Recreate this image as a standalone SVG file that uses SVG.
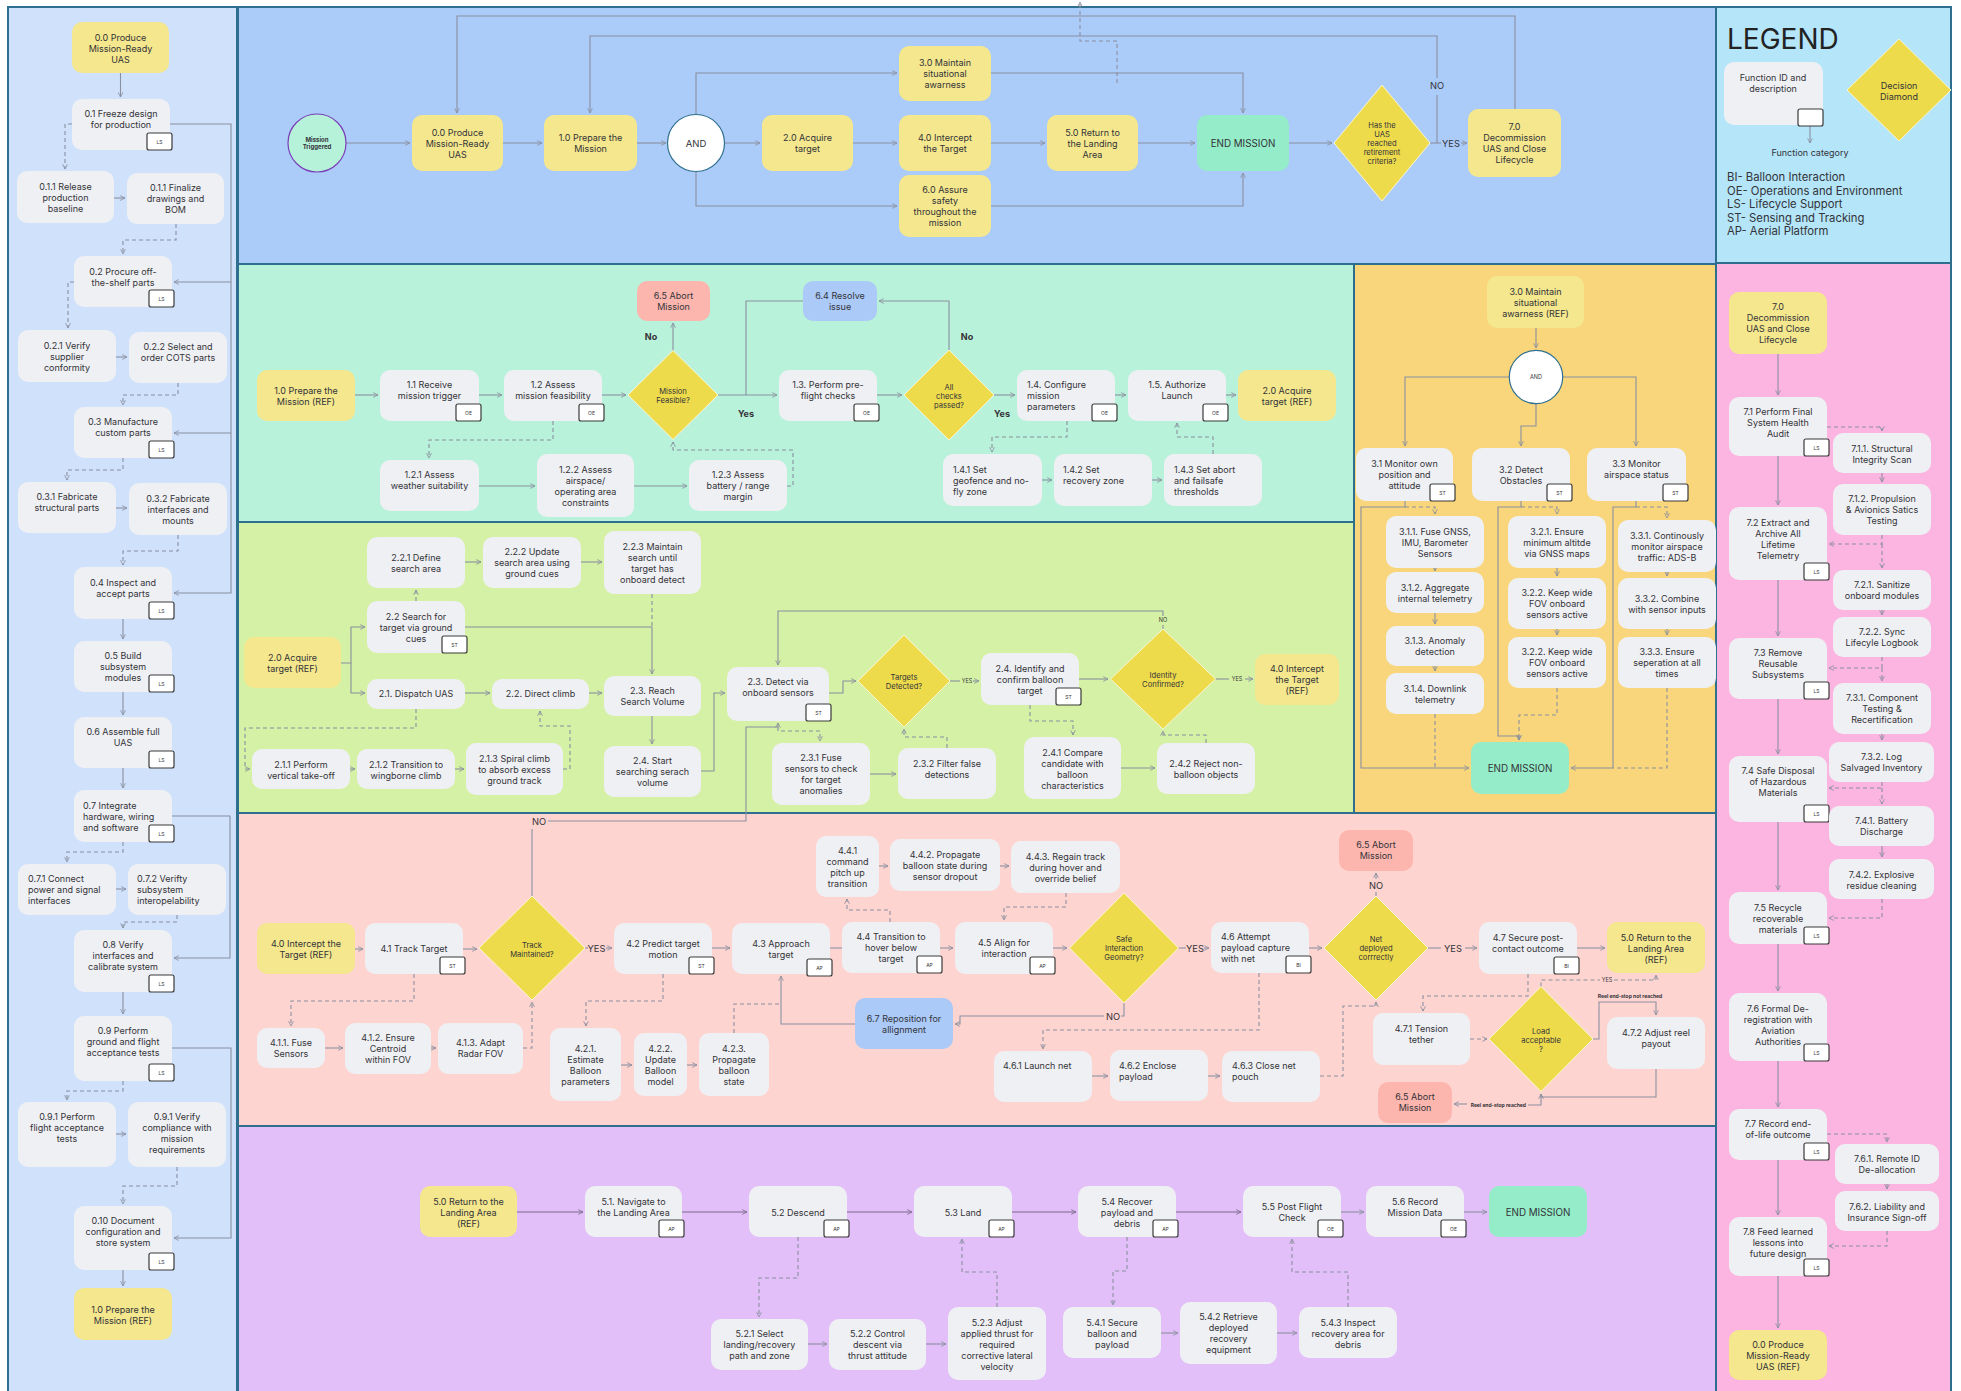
<svg xmlns="http://www.w3.org/2000/svg" width="1961" height="1391" viewBox="0 0 1961 1391">
<defs>
<marker id="ah" viewBox="0 0 10 10" refX="9" refY="5" markerWidth="6" markerHeight="6" orient="auto-start-reverse" markerUnits="userSpaceOnUse"><path d="M1,1 L9,5 L1,9" fill="none" stroke="#8a90a0" stroke-width="1.4"/></marker>
<marker id="ahp" viewBox="0 0 10 10" refX="9" refY="5" markerWidth="6" markerHeight="6" orient="auto-start-reverse" markerUnits="userSpaceOnUse"><path d="M1,1 L9,5 L1,9" fill="none" stroke="#7d6a8d" stroke-width="1.4"/></marker>
<style>
.pnl{stroke:#2e6e8e;stroke-width:2}
.n{fill:#eff0f3}
.y{fill:#f4e78d}
.e{fill:#95ecc8}
.ab{fill:#fdb6ae}
.bl{fill:#abcaf8}
.dm{fill:#eedb4c;stroke:#fbf6d0;stroke-width:1}
text{font-family:Inter,"Noto Sans",sans-serif;fill:#333338}
.t{font-size:9px;text-anchor:middle}
.tl{font-size:9px;text-anchor:start}
.dt{font-size:7.6px;text-anchor:middle}
.em{font-size:9.8px;text-anchor:middle}
.lb{font-size:9.3px;text-anchor:middle}
.bd{font-size:9px;font-weight:700;text-anchor:middle}
.tiny{font-size:5.5px;text-anchor:middle}
.rb{font-size:5px;font-weight:700}
.tag rect{fill:#fff;stroke:#3a3a3a;stroke-width:1.2}
.tg{font-size:5px;text-anchor:middle}
.c{fill:none;stroke:#8a90a0;stroke-width:1.1;marker-end:url(#ah)}
.cn{fill:none;stroke:#8a90a0;stroke-width:1.1}
.d{stroke-dasharray:4 3}
.p{fill:none;stroke:#7d6a8d;stroke-width:1.2;marker-end:url(#ahp)}
</style>
</defs>
<rect width="1961" height="1391" fill="#fff"/>

<!-- swimlane panels -->
<g id="panels">
<rect class="pnl" x="8" y="7" width="229" height="1392" fill="#cfe1fb"/>
<rect class="pnl" x="238" y="7" width="1478" height="257" fill="#abcbf9"/>
<rect class="pnl" x="238" y="264" width="1116" height="258" fill="#b9f2da"/>
<rect class="pnl" x="1354" y="264" width="362" height="549" fill="#f9d67b"/>
<rect class="pnl" x="238" y="522" width="1116" height="291" fill="#d5f1a5"/>
<rect class="pnl" x="238" y="813" width="1478" height="313" fill="#fed4d0"/>
<rect class="pnl" x="238" y="1126" width="1478" height="273" fill="#e2bff8"/>
<rect class="pnl" x="1716" y="7" width="235" height="256" fill="#b4e5f8"/>
<rect class="pnl" x="1716" y="263" width="235" height="1136" fill="#fcb4e0"/>
</g>

<!-- connectors -->
<g id="connectors">
<!-- production lane -->
<path class="c" d="M120.5,73 V97"/>
<path class="c d" d="M72,124 H65 V169"/>
<path class="c" d="M114,198 H125"/>
<path class="c d" d="M176,224 V240 H123 V254"/>
<path class="c d" d="M74,282 H68 V328"/>
<path class="c" d="M116,357 H127"/>
<path class="c d" d="M178,383 V395 H123 V405"/>
<path class="c d" d="M123,458 V470 H67 V480"/>
<path class="c" d="M116,508 H127"/>
<path class="c d" d="M178,535 V551 H123 V565"/>
<path class="c" d="M123,619 V639"/>
<path class="c" d="M123,692 V715"/>
<path class="c" d="M123,768 V788"/>
<path class="c d" d="M123,842 V852 H67 V862"/>
<path class="c" d="M116,889 H126"/>
<path class="c d" d="M177,915 V922 H123 V928"/>
<path class="c" d="M123,992 V1014"/>
<path class="c d" d="M123,1081 V1091 H67 V1100"/>
<path class="c" d="M116,1134 H126"/>
<path class="c d" d="M177,1167 V1186 H123 V1204"/>
<path class="c" d="M123,1270 V1286"/>
<path class="c" d="M170,124 H231 V593 H174"/>
<path class="c" d="M231,282 H174"/>
<path class="c" d="M231,433 H174"/>
<path class="c" d="M172,816 H230 V958 H174"/>
<path class="c" d="M172,1048 H231 V1238 H174"/>

<!-- mission overview -->
<path class="c" d="M346,143 H410"/>
<path class="c" d="M503,143 H542"/>
<path class="c" d="M637,143 H666"/>
<path class="c" d="M724.5,143 H760"/>
<path class="c" d="M853,143 H897"/>
<path class="c" d="M696,114.5 V73 H897"/>
<path class="c" d="M696,171.5 V206 H897"/>
<path class="c" d="M991,143 H1045"/>
<path class="c" d="M1138,143 H1195"/>
<path class="c" d="M991,73 H1243 V113"/>
<path class="c" d="M991,206 H1243 V173"/>
<path class="c" d="M1289,143 H1332"/>
<path class="cn" d="M1430,143 H1441"/>
<text class="lb" x="1451" y="146.5">YES</text>
<path class="c" d="M1461,143 H1467"/>
<path class="cn" d="M1437,143 V95"/>
<text class="lb" x="1437" y="88.5">NO</text>
<path class="c" d="M1437,78 V36 H590 V113"/>
<path class="c" d="M1515,109 V16 H457 V113"/>
<path class="c d" d="M1117,83 V41 H1080 V2"/>

<!-- legend -->
<path class="c" d="M1810,126 V143"/>

<!-- prepare lane -->
<path class="c" d="M355,395 H378"/>
<path class="c" d="M479,395 H502"/>
<path class="c" d="M602,395 H626"/>
<path class="c" d="M673,350.5 V323"/>
<path class="c" d="M718,395 H777"/>
<path class="c" d="M877,395 H902"/>
<path class="c" d="M949,350 V301 H879"/>
<path class="cn" d="M803,301 H746 V395"/>
<path class="c" d="M994,395 H1015"/>
<path class="c" d="M1115,395 H1126"/>
<path class="c" d="M1226,395 H1236"/>
<path class="c d" d="M553,421 V440 H429 V458"/>
<path class="c" d="M479,486 H535"/>
<path class="c" d="M634,486 H687"/>
<path class="c d" d="M787,486 H793 V450 H673 V442"/>
<path class="c d" d="M1067,421 V437 H992 V452"/>
<path class="c" d="M1042,480 H1052"/>
<path class="c" d="M1152,480 H1162"/>
<path class="c d" d="M1213,454 V437 H1177 V423"/>
<text class="bd" x="651" y="340">No</text>
<text class="bd" x="746" y="417">Yes</text>
<text class="bd" x="967" y="340">No</text>
<text class="bd" x="1002" y="417">Yes</text>

<!-- situational awareness lane -->
<path class="c" d="M1536,328 V348"/>
<path class="c" d="M1509.3,377 H1405 V446"/>
<path class="c" d="M1536,403.7 V426 H1521 V446"/>
<path class="c" d="M1562.7,377 H1636 V446"/>
<path class="c" d="M1405,501 V507 H1361 V768 H1469"/>
<path class="c d" d="M1405,507 H1435 V514"/>
<path class="c" d="M1435,568 V571"/>
<path class="c" d="M1435,613 V624"/>
<path class="c" d="M1435,666 V671"/>
<path class="cn d" d="M1435,714 V768"/>
<path class="c" d="M1521,501 V507 H1498 V736 H1519 V740"/>
<path class="c d" d="M1521,507 H1557 V514"/>
<path class="c" d="M1557,568 V576"/>
<path class="c" d="M1557,629 V635"/>
<path class="c d" d="M1557,688 V715 H1519 V740"/>
<path class="c" d="M1636,501 V507 H1613 V768 H1571"/>
<path class="c d" d="M1636,507 H1667 V518"/>
<path class="c" d="M1667,572 V576"/>
<path class="c" d="M1667,629 V635"/>
<path class="cn d" d="M1667,688 V768 H1613"/>

<!-- acquire lane -->
<path class="c" d="M341,663 H351 V627 H365"/>
<path class="c" d="M351,663 V693 H365"/>
<path class="c d" d="M416,601 V590"/>
<path class="c" d="M465,562 H481"/>
<path class="c" d="M581,562 H602"/>
<path class="c" d="M465,627 H652 V674"/>
<path class="cn d" d="M652,594 V627"/>
<path class="c" d="M465,693 H490"/>
<path class="c" d="M589,693 H602"/>
<path class="c" d="M652,716 V744"/>
<path class="c d" d="M416,709 V728 H245 V769 H250"/>
<path class="c" d="M350,769 H355"/>
<path class="c" d="M455,769 H464"/>
<path class="c d" d="M563,769 H570 V726 H540 V711"/>
<path class="c" d="M701,771 H714 V693 H725"/>
<path class="c" d="M829,693 H843 V681 H856"/>
<path class="cn" d="M950,681 H960"/>
<text class="tiny" x="967" y="683">YES</text>
<path class="c" d="M973,681 H979"/>
<path class="c" d="M1079,679 H1108"/>
<path class="cn" d="M1215.5,679 H1229"/>
<text class="tiny" x="1237" y="681">YES</text>
<path class="c" d="M1245,679 H1253"/>
<path class="cn" d="M1163,629 V625"/>
<text class="tiny" x="1163" y="622">NO</text>
<path class="c" d="M1163,616 V611 H778 V665"/>
<path class="cn" d="M532,896 V829"/>
<text class="lb" x="539" y="824.5">NO</text>
<path class="c" d="M548,821 H746 V727 H778 V723"/>
<path class="c d" d="M778,727 V731 H820 V741"/>
<path class="c" d="M870,774 H896"/>
<path class="c d" d="M947,748 V737 H904 V729"/>
<path class="c d" d="M1030,705 V721 H1073 V735"/>
<path class="c" d="M1121,768 H1155"/>
<path class="c d" d="M1206,743 V735 H1163 V731"/>

<!-- intercept lane -->
<path class="c" d="M355,949 H363"/>
<path class="c" d="M463,949 H477"/>
<path class="cn" d="M585,948 H588"/>
<text class="lb" x="596.5" y="951.5">YES</text>
<path class="c" d="M606,948 H612"/>
<path class="c" d="M712,948 H730"/>
<path class="cn" d="M830,948 H842"/>
<path class="c" d="M940,948 H953"/>
<path class="c" d="M1053,948 H1067"/>
<path class="cn" d="M1178.5,948 H1186"/>
<text class="lb" x="1195" y="951.5">YES</text>
<path class="c" d="M1204,948 H1209"/>
<path class="c" d="M1309,948 H1322"/>
<path class="cn" d="M1376,896 V892"/>
<text class="lb" x="1376" y="889">NO</text>
<path class="c" d="M1376,879 V873"/>
<path class="cn" d="M1428,948 H1441"/>
<text class="lb" x="1453" y="951.5">YES</text>
<path class="c" d="M1465,948 H1477"/>
<path class="c" d="M1577,948 H1605"/>
<path class="c d" d="M1528,974 V996 H1423 V1011"/>
<path class="c d" d="M1470,1039 H1487"/>
<path class="cn d" d="M1541,986.5 V980 H1600"/>
<text class="tiny" x="1607" y="982">YES</text>
<path class="c d" d="M1614,980 H1656 V975"/>
<path class="c" d="M1593,1039 H1599 V1002 H1656 V1015"/>
<text class="rb" x="1630" y="998" text-anchor="middle">Reel end-stop not reached</text>
<path class="c" d="M1656,1069 V1097 H1541 V1094"/>
<path class="cn" d="M1541,1094 V1105 H1528"/>
<text class="rb" x="1526" y="1107" text-anchor="end">Reel end-stop reached</text>
<path class="c" d="M1467,1104 H1454"/>
<path class="c d" d="M414,974 V1001 H291 V1026"/>
<path class="c" d="M325,1048 H343"/>
<path class="c" d="M431,1048 H436"/>
<path class="c d" d="M523,1048 H532 V1002"/>
<path class="c d" d="M663,974 V1001 H586 V1026"/>
<path class="c" d="M621,1065 H632"/>
<path class="c" d="M687,1065 H697"/>
<path class="cn d" d="M734,1033 V1004 H781"/>
<path class="cn" d="M1124,1003 V1016 H1121"/>
<text class="lb" x="1113" y="1019.5">NO</text>
<path class="c" d="M1104,1016 H960 V1024 H955"/>
<path class="c" d="M855,1024 H781 V976"/>
<path class="c d" d="M890,922 V910 H847 V899"/>
<path class="c" d="M879,866 H888"/>
<path class="c" d="M1000,866 H1009"/>
<path class="c d" d="M1066,893 V907 H1004 V920"/>
<path class="c d" d="M1259,973 V1030 H1043 V1049"/>
<path class="c" d="M1092,1076 H1108"/>
<path class="c" d="M1208,1076 H1220"/>
<path class="c d" d="M1320,1076 H1343 V1006 H1376 V1002"/>

<!-- return lane -->
<path class="p" d="M517,1212 H583"/>
<path class="p" d="M682,1212 H747"/>
<path class="p" d="M847,1212 H912"/>
<path class="p" d="M1012,1212 H1076"/>
<path class="p" d="M1176,1212 H1241"/>
<path class="c" d="M1341,1212 H1364"/>
<path class="c" d="M1464,1212 H1487"/>
<path class="c d" d="M798,1237 V1278 H759 V1317"/>
<path class="c" d="M808,1344 H827"/>
<path class="c" d="M926,1344 H946"/>
<path class="c d" d="M997,1307 V1272 H962 V1239"/>
<path class="c d" d="M1127,1237 V1271 H1113 V1305"/>
<path class="c" d="M1161,1333 H1178"/>
<path class="c" d="M1277,1333 H1297"/>
<path class="c d" d="M1348,1307 V1272 H1292 V1239"/>

<!-- decommission lane -->
<path class="c" d="M1778,354 V395"/>
<path class="c" d="M1778,456 V505"/>
<path class="c d" d="M1827,427 H1882 V431"/>
<path class="c" d="M1882,473 V482"/>
<path class="c d" d="M1882,535 V544 H1829"/>
<path class="c d" d="M1882,544 V568"/>
<path class="c" d="M1882,610 V615"/>
<path class="c d" d="M1882,657 V668 H1829"/>
<path class="c d" d="M1882,668 V681"/>
<path class="c" d="M1778,580 V636"/>
<path class="c" d="M1778,699 V754"/>
<path class="c" d="M1882,734 V740"/>
<path class="c d" d="M1882,782 V788 H1829"/>
<path class="c d" d="M1882,788 V804"/>
<path class="c" d="M1882,846 V857"/>
<path class="c d" d="M1882,899 V918 H1829"/>
<path class="c" d="M1778,822 V890"/>
<path class="c" d="M1778,944 V991"/>
<path class="c" d="M1778,1061 V1107"/>
<path class="c d" d="M1827,1134 H1887 V1142"/>
<path class="c" d="M1887,1184 V1189"/>
<path class="c d" d="M1887,1231 V1246 H1829"/>
<path class="c" d="M1778,1160 V1215"/>
<path class="c" d="M1778,1276 V1328"/>
</g>

<!-- ===== production lane nodes ===== -->
<g id="n0_0"><rect class="y" x="72" y="22" width="97" height="51" rx="10"/><text class="t" x="120.5" y="40.5"><tspan x="120.5">0.0 Produce</tspan><tspan x="120.5" dy="11">Mission-Ready</tspan><tspan x="120.5" dy="11">UAS</tspan></text></g>
<g id="n0_1"><rect class="n" x="72" y="99" width="98" height="51" rx="10"/><text class="t" x="121" y="117"><tspan x="121">0.1 Freeze design</tspan><tspan x="121" dy="11">for production</tspan></text><g class="tag"><rect x="147" y="133" width="25" height="17" rx="2"/><text class="tg" x="159.5" y="143.5">LS</text></g></g>
<g id="n0_1_1a"><rect class="n" x="17" y="171" width="97" height="52" rx="10"/><text class="t" x="65.5" y="189.5"><tspan x="65.5">0.1.1 Release</tspan><tspan x="65.5" dy="11">production</tspan><tspan x="65.5" dy="11">baseline</tspan></text></g>
<g id="n0_1_1b"><rect class="n" x="127" y="173" width="97" height="51" rx="10"/><text class="t" x="175.5" y="191"><tspan x="175.5">0.1.1 Finalize</tspan><tspan x="175.5" dy="11">drawings and</tspan><tspan x="175.5" dy="11">BOM</tspan></text></g>
<g id="n0_2"><rect class="n" x="74" y="256" width="98" height="51" rx="10"/><text class="t" x="123" y="274.5"><tspan x="123">0.2 Procure off-</tspan><tspan x="123" dy="11">the-shelf parts</tspan></text><g class="tag"><rect x="149" y="290" width="25" height="17" rx="2"/><text class="tg" x="161.5" y="300.5">LS</text></g></g>
<g id="n0_2_1"><rect class="n" x="18" y="330" width="98" height="52" rx="10"/><text class="t" x="67" y="349"><tspan x="67">0.2.1 Verify</tspan><tspan x="67" dy="11">supplier</tspan><tspan x="67" dy="11">conformity</tspan></text></g>
<g id="n0_2_2"><rect class="n" x="129" y="332" width="98" height="51" rx="10"/><text class="t" x="178" y="350"><tspan x="178">0.2.2 Select and</tspan><tspan x="178" dy="11">order COTS parts</tspan></text></g>
<g id="n0_3"><rect class="n" x="74" y="407" width="98" height="51" rx="10"/><text class="t" x="123" y="425"><tspan x="123">0.3 Manufacture</tspan><tspan x="123" dy="11">custom parts</tspan></text><g class="tag"><rect x="149" y="441" width="25" height="17" rx="2"/><text class="tg" x="161.5" y="451.5">LS</text></g></g>
<g id="n0_3_1"><rect class="n" x="18" y="482" width="98" height="51" rx="10"/><text class="t" x="67" y="500"><tspan x="67">0.3.1 Fabricate</tspan><tspan x="67" dy="11">structural parts</tspan></text></g>
<g id="n0_3_2"><rect class="n" x="129" y="483" width="98" height="52" rx="10"/><text class="t" x="178" y="501.5"><tspan x="178">0.3.2 Fabricate</tspan><tspan x="178" dy="11">interfaces and</tspan><tspan x="178" dy="11">mounts</tspan></text></g>
<g id="n0_4"><rect class="n" x="74" y="567" width="98" height="52" rx="10"/><text class="t" x="123" y="585.8"><tspan x="123">0.4 Inspect and</tspan><tspan x="123" dy="11">accept parts</tspan></text><g class="tag"><rect x="149" y="602" width="25" height="17" rx="2"/><text class="tg" x="161.5" y="612.5">LS</text></g></g>
<g id="n0_5"><rect class="n" x="74" y="641" width="98" height="51" rx="10"/><text class="t" x="123" y="659"><tspan x="123">0.5 Build</tspan><tspan x="123" dy="11">subsystem</tspan><tspan x="123" dy="11">modules</tspan></text><g class="tag"><rect x="149" y="675" width="25" height="17" rx="2"/><text class="tg" x="161.5" y="685.5">LS</text></g></g>
<g id="n0_6"><rect class="n" x="74" y="717" width="98" height="51" rx="10"/><text class="t" x="123" y="735"><tspan x="123">0.6 Assemble full</tspan><tspan x="123" dy="11">UAS</tspan></text><g class="tag"><rect x="149" y="751" width="25" height="17" rx="2"/><text class="tg" x="161.5" y="761.5">LS</text></g></g>
<g id="n0_7"><rect class="n" x="74" y="790" width="98" height="52" rx="10"/><text class="tl" x="83" y="808.5"><tspan x="83">0.7 Integrate</tspan><tspan x="83" dy="11">hardware, wiring</tspan><tspan x="83" dy="11">and software</tspan></text><g class="tag"><rect x="149" y="825" width="25" height="17" rx="2"/><text class="tg" x="161.5" y="835.5">LS</text></g></g>
<g id="n0_7_1"><rect class="n" x="18" y="864" width="98" height="51" rx="10"/><text class="tl" x="28" y="882"><tspan x="28">0.7.1 Connect</tspan><tspan x="28" dy="11">power and signal</tspan><tspan x="28" dy="11">interfaces</tspan></text></g>
<g id="n0_7_2"><rect class="n" x="128" y="864" width="98" height="51" rx="10"/><text class="tl" x="137" y="882"><tspan x="137">0.7.2 Verifty</tspan><tspan x="137" dy="11">subsystem</tspan><tspan x="137" dy="11">interopelability</tspan></text></g>
<g id="n0_8"><rect class="n" x="74" y="930" width="98" height="62" rx="10"/><text class="t" x="123" y="948"><tspan x="123">0.8 Verify</tspan><tspan x="123" dy="11">interfaces and</tspan><tspan x="123" dy="11">calibrate system</tspan></text><g class="tag"><rect x="149" y="975" width="25" height="17" rx="2"/><text class="tg" x="161.5" y="985.5">LS</text></g></g>
<g id="n0_9"><rect class="n" x="74" y="1016" width="98" height="65" rx="10"/><text class="t" x="123" y="1034"><tspan x="123">0.9 Perform</tspan><tspan x="123" dy="11">ground and flight</tspan><tspan x="123" dy="11">acceptance tests</tspan></text><g class="tag"><rect x="149" y="1064" width="25" height="17" rx="2"/><text class="tg" x="161.5" y="1074.5">LS</text></g></g>
<g id="n0_9_1a"><rect class="n" x="18" y="1102" width="98" height="65" rx="10"/><text class="t" x="67" y="1120"><tspan x="67">0.9.1 Perform</tspan><tspan x="67" dy="11">flight acceptance</tspan><tspan x="67" dy="11">tests</tspan></text></g>
<g id="n0_9_1b"><rect class="n" x="128" y="1102" width="98" height="65" rx="10"/><text class="t" x="177" y="1120"><tspan x="177">0.9.1 Verify</tspan><tspan x="177" dy="11">compliance with</tspan><tspan x="177" dy="11">mission</tspan><tspan x="177" dy="11">requirements</tspan></text></g>
<g id="n0_10"><rect class="n" x="74" y="1206" width="98" height="64" rx="10"/><text class="t" x="123" y="1224"><tspan x="123">0.10 Document</tspan><tspan x="123" dy="11">configuration and</tspan><tspan x="123" dy="11">store system</tspan></text><g class="tag"><rect x="149" y="1253" width="25" height="17" rx="2"/><text class="tg" x="161.5" y="1263.5">LS</text></g></g>
<g id="n1_0r"><rect class="y" x="74" y="1288" width="98" height="52" rx="10"/><text class="t" x="123" y="1312.5"><tspan x="123">1.0 Prepare the</tspan><tspan x="123" dy="11">Mission (REF)</tspan></text></g>

<!-- ===== mission overview nodes ===== -->
<g id="t_trigger"><circle cx="317" cy="143" r="29" fill="#b5f2d9" stroke="#7b3fb8" stroke-width="1.2"/><text x="317" y="141.5" style="font-size:6px;font-weight:700;text-anchor:middle"><tspan x="317">Mission</tspan><tspan x="317" dy="7.5">Triggered</tspan></text></g>
<g id="t0_0"><rect class="y" x="412" y="115" width="91" height="56" rx="10"/><text class="t" x="457.5" y="135.5"><tspan x="457.5">0.0 Produce</tspan><tspan x="457.5" dy="11">Mission-Ready</tspan><tspan x="457.5" dy="11">UAS</tspan></text></g>
<g id="t1_0"><rect class="y" x="544" y="115" width="93" height="56" rx="10"/><text class="t" x="590.5" y="141"><tspan x="590.5">1.0 Prepare the</tspan><tspan x="590.5" dy="11">Mission</tspan></text></g>
<g id="t_and"><circle cx="696" cy="143" r="28.5" fill="#fff" stroke="#2e6e8e" stroke-width="1.2"/><text x="696" y="146.5" style="font-size:9.5px;text-anchor:middle">AND</text></g>
<g id="t2_0"><rect class="y" x="762" y="115" width="91" height="56" rx="10"/><text class="t" x="807.5" y="141"><tspan x="807.5">2.0 Acquire</tspan><tspan x="807.5" dy="11">target</tspan></text></g>
<g id="t3_0"><rect class="y" x="899" y="46" width="92" height="55" rx="10"/><text class="t" x="945" y="66"><tspan x="945">3.0 Maintain</tspan><tspan x="945" dy="11">situational</tspan><tspan x="945" dy="11">awarness</tspan></text></g>
<g id="t4_0"><rect class="y" x="899" y="115" width="92" height="56" rx="10"/><text class="t" x="945" y="141"><tspan x="945">4.0 Intercept</tspan><tspan x="945" dy="11">the Target</tspan></text></g>
<g id="t6_0"><rect class="y" x="899" y="175" width="92" height="62" rx="10"/><text class="t" x="945" y="193"><tspan x="945">6.0 Assure</tspan><tspan x="945" dy="11">safety</tspan><tspan x="945" dy="11">throughout the</tspan><tspan x="945" dy="11">mission</tspan></text></g>
<g id="t5_0"><rect class="y" x="1047" y="115" width="91" height="56" rx="10"/><text class="t" x="1092.5" y="135.5"><tspan x="1092.5">5.0 Return to</tspan><tspan x="1092.5" dy="11">the Landing</tspan><tspan x="1092.5" dy="11">Area</tspan></text></g>
<g id="t_end"><rect class="e" x="1197" y="115" width="92" height="56" rx="10"/><text class="em" x="1243" y="146.5">END MISSION</text></g>
<g id="t_retire"><polygon class="dm" points="1382,85 1430,143 1382,201 1334,143"/><text class="dt" x="1382" y="127.5"><tspan x="1382">Has the</tspan><tspan x="1382" dy="9.2">UAS</tspan><tspan x="1382" dy="9.2">reached</tspan><tspan x="1382" dy="9.2">retirement</tspan><tspan x="1382" dy="9.2">criteria?</tspan></text></g>
<g id="t7_0"><rect class="y" x="1468" y="109" width="93" height="68" rx="10"/><text class="t" x="1514.5" y="130"><tspan x="1514.5">7.0</tspan><tspan x="1514.5" dy="11">Decommission</tspan><tspan x="1514.5" dy="11">UAS and Close</tspan><tspan x="1514.5" dy="11">Lifecycle</tspan></text></g>

<!-- ===== legend ===== -->
<g id="legend">
<text x="1727" y="49" style="font-size:28px;fill:#222">LEGEND</text>
<rect class="n" x="1724" y="62" width="99" height="63" rx="10"/>
<text class="t" x="1773" y="80.5"><tspan x="1773">Function ID and</tspan><tspan x="1773" dy="11">description</tspan></text>
<g class="tag"><rect x="1798" y="109" width="25" height="17" rx="2"/></g>
<text class="t" x="1810" y="156">Function category</text>
<polygon class="dm" points="1899,39 1951,90 1899,141 1847,90"/>
<text class="t" x="1899" y="89"><tspan x="1899">Decision</tspan><tspan x="1899" dy="11">Diamond</tspan></text>
<text x="1727" y="181" style="font-size:11.3px"><tspan x="1727">BI- Balloon Interaction</tspan><tspan x="1727" dy="13.5">OE- Operations and Environment</tspan><tspan x="1727" dy="13.5">LS- Lifecycle Support</tspan><tspan x="1727" dy="13.5">ST- Sensing and Tracking</tspan><tspan x="1727" dy="13.5">AP- Aerial Platform</tspan></text>
</g>

<!-- ===== prepare lane nodes ===== -->
<g id="g1_0r"><rect class="y" x="257" y="370" width="98" height="51" rx="10"/><text class="t" x="306" y="393.8"><tspan x="306">1.0 Prepare the</tspan><tspan x="306" dy="11">Mission (REF)</tspan></text></g>
<g id="g1_1"><rect class="n" x="380" y="370" width="99" height="51" rx="10"/><text class="t" x="429.5" y="388"><tspan x="429.5">1.1 Receive</tspan><tspan x="429.5" dy="11">mission trigger</tspan></text><g class="tag"><rect x="456" y="404" width="25" height="17" rx="2"/><text class="tg" x="468.5" y="414.5">OE</text></g></g>
<g id="g1_2"><rect class="n" x="504" y="370" width="98" height="51" rx="10"/><text class="t" x="553" y="388"><tspan x="553">1.2 Assess</tspan><tspan x="553" dy="11">mission feasibility</tspan></text><g class="tag"><rect x="579" y="404" width="25" height="17" rx="2"/><text class="tg" x="591.5" y="414.5">OE</text></g></g>
<g id="g_feasible"><polygon class="dm" points="673,350.5 718,395 673,439.5 628,395"/><text class="dt" x="673" y="394"><tspan x="673">Mission</tspan><tspan x="673" dy="9">Feasible?</tspan></text></g>
<g id="g6_5"><rect class="ab" x="637" y="281" width="73" height="40" rx="10"/><text class="t" x="673.5" y="299"><tspan x="673.5">6.5 Abort</tspan><tspan x="673.5" dy="11">Mission</tspan></text></g>
<g id="g1_3"><rect class="n" x="779" y="370" width="98" height="51" rx="10"/><text class="t" x="828" y="388"><tspan x="828">1.3. Perform pre-</tspan><tspan x="828" dy="11">flight checks</tspan></text><g class="tag"><rect x="854" y="404" width="25" height="17" rx="2"/><text class="tg" x="866.5" y="414.5">OE</text></g></g>
<g id="g6_4"><rect class="bl" x="803" y="281" width="74" height="40" rx="10"/><text class="t" x="840" y="299"><tspan x="840">6.4 Resolve</tspan><tspan x="840" dy="11">issue</tspan></text></g>
<g id="g_checks"><polygon class="dm" points="949,350 994,395 949,440 904,395"/><text class="dt" x="949" y="389.5"><tspan x="949">All</tspan><tspan x="949" dy="9.3">checks</tspan><tspan x="949" dy="9.3">passed?</tspan></text></g>
<g id="g1_4"><rect class="n" x="1017" y="370" width="98" height="51" rx="10"/><text class="tl" x="1027" y="388"><tspan x="1027">1.4. Configure</tspan><tspan x="1027" dy="11">mission</tspan><tspan x="1027" dy="11">parameters</tspan></text><g class="tag"><rect x="1092" y="404" width="25" height="17" rx="2"/><text class="tg" x="1104.5" y="414.5">OE</text></g></g>
<g id="g1_5"><rect class="n" x="1128" y="370" width="98" height="51" rx="10"/><text class="t" x="1177" y="388"><tspan x="1177">1.5. Authorize</tspan><tspan x="1177" dy="11">Launch</tspan></text><g class="tag"><rect x="1203" y="404" width="25" height="17" rx="2"/><text class="tg" x="1215.5" y="414.5">OE</text></g></g>
<g id="g2_0r"><rect class="y" x="1238" y="370" width="98" height="51" rx="10"/><text class="t" x="1287" y="393.8"><tspan x="1287">2.0 Acquire</tspan><tspan x="1287" dy="11">target (REF)</tspan></text></g>
<g id="g1_2_1"><rect class="n" x="380" y="460" width="99" height="51" rx="10"/><text class="t" x="429.5" y="478"><tspan x="429.5">1.2.1 Assess</tspan><tspan x="429.5" dy="11">weather suitability</tspan></text></g>
<g id="g1_2_2"><rect class="n" x="537" y="454" width="97" height="63" rx="10"/><text class="t" x="585.5" y="473"><tspan x="585.5">1.2.2 Assess</tspan><tspan x="585.5" dy="11">airspace/</tspan><tspan x="585.5" dy="11">operating area</tspan><tspan x="585.5" dy="11">constraints</tspan></text></g>
<g id="g1_2_3"><rect class="n" x="689" y="460" width="98" height="51" rx="10"/><text class="t" x="738" y="478"><tspan x="738">1.2.3 Assess</tspan><tspan x="738" dy="11">battery / range</tspan><tspan x="738" dy="11">margin</tspan></text></g>
<g id="g1_4_1"><rect class="n" x="943" y="454" width="99" height="52" rx="10"/><text class="tl" x="953" y="473"><tspan x="953">1.4.1 Set</tspan><tspan x="953" dy="11">geofence and no-</tspan><tspan x="953" dy="11">fly zone</tspan></text></g>
<g id="g1_4_2"><rect class="n" x="1054" y="454" width="98" height="52" rx="10"/><text class="tl" x="1063" y="473"><tspan x="1063">1.4.2 Set</tspan><tspan x="1063" dy="11">recovery zone</tspan></text></g>
<g id="g1_4_3"><rect class="n" x="1164" y="454" width="98" height="52" rx="10"/><text class="tl" x="1174" y="473"><tspan x="1174">1.4.3 Set abort</tspan><tspan x="1174" dy="11">and failsafe</tspan><tspan x="1174" dy="11">thresholds</tspan></text></g>

<!-- ===== situational awareness nodes ===== -->
<g id="o3_0r"><rect class="y" x="1487" y="276" width="97" height="52" rx="10"/><text class="t" x="1535.5" y="294.5"><tspan x="1535.5">3.0 Maintain</tspan><tspan x="1535.5" dy="11">situational</tspan><tspan x="1535.5" dy="11">awarness (REF)</tspan></text></g>
<g id="o_and"><circle cx="1536" cy="377" r="26.7" fill="#fff" stroke="#2e6e8e" stroke-width="1.2"/><text x="1536" y="379" style="font-size:5.5px;text-anchor:middle">AND</text></g>
<g id="o3_1"><rect class="n" x="1356" y="448" width="97" height="53" rx="10"/><text class="t" x="1404.5" y="467"><tspan x="1404.5">3.1 Monitor own</tspan><tspan x="1404.5" dy="11">position and</tspan><tspan x="1404.5" dy="11">attitude</tspan></text><g class="tag"><rect x="1430" y="484" width="25" height="17" rx="2"/><text class="tg" x="1442.5" y="494.5">ST</text></g></g>
<g id="o3_2"><rect class="n" x="1472" y="448" width="98" height="53" rx="10"/><text class="t" x="1521" y="473"><tspan x="1521">3.2 Detect</tspan><tspan x="1521" dy="11">Obstacles</tspan></text><g class="tag"><rect x="1547" y="484" width="25" height="17" rx="2"/><text class="tg" x="1559.5" y="494.5">ST</text></g></g>
<g id="o3_3"><rect class="n" x="1587" y="448" width="99" height="53" rx="10"/><text class="t" x="1636.5" y="467"><tspan x="1636.5">3.3 Monitor</tspan><tspan x="1636.5" dy="11">airspace status</tspan></text><g class="tag"><rect x="1663" y="484" width="25" height="17" rx="2"/><text class="tg" x="1675.5" y="494.5">ST</text></g></g>
<g id="o3_1_1"><rect class="n" x="1386" y="516" width="98" height="52" rx="10"/><text class="t" x="1435" y="535"><tspan x="1435">3.1.1. Fuse GNSS,</tspan><tspan x="1435" dy="11">IMU, Barometer</tspan><tspan x="1435" dy="11">Sensors</tspan></text></g>
<g id="o3_1_2"><rect class="n" x="1386" y="572" width="98" height="41" rx="10"/><text class="t" x="1435" y="591"><tspan x="1435">3.1.2. Aggregate</tspan><tspan x="1435" dy="11">internal telemetry</tspan></text></g>
<g id="o3_1_3"><rect class="n" x="1386" y="626" width="98" height="40" rx="10"/><text class="t" x="1435" y="644"><tspan x="1435">3.1.3. Anomaly</tspan><tspan x="1435" dy="11">detection</tspan></text></g>
<g id="o3_1_4"><rect class="n" x="1386" y="673" width="98" height="41" rx="10"/><text class="t" x="1435" y="692"><tspan x="1435">3.1.4. Downlink</tspan><tspan x="1435" dy="11">telemetry</tspan></text></g>
<g id="o3_2_1"><rect class="n" x="1508" y="516" width="98" height="52" rx="10"/><text class="t" x="1557" y="535"><tspan x="1557">3.2.1. Ensure</tspan><tspan x="1557" dy="11">minimum altitde</tspan><tspan x="1557" dy="11">via GNSS maps</tspan></text></g>
<g id="o3_2_2a"><rect class="n" x="1508" y="578" width="98" height="51" rx="10"/><text class="t" x="1557" y="596"><tspan x="1557">3.2.2. Keep wide</tspan><tspan x="1557" dy="11">FOV onboard</tspan><tspan x="1557" dy="11">sensors active</tspan></text></g>
<g id="o3_2_2b"><rect class="n" x="1508" y="637" width="98" height="51" rx="10"/><text class="t" x="1557" y="655"><tspan x="1557">3.2.2. Keep wide</tspan><tspan x="1557" dy="11">FOV onboard</tspan><tspan x="1557" dy="11">sensors active</tspan></text></g>
<g id="o3_3_1"><rect class="n" x="1618" y="520" width="98" height="52" rx="10"/><text class="t" x="1667" y="538.5"><tspan x="1667">3.3.1. Continously</tspan><tspan x="1667" dy="11">monitor airspace</tspan><tspan x="1667" dy="11">traffic: ADS-B</tspan></text></g>
<g id="o3_3_2"><rect class="n" x="1618" y="578" width="98" height="51" rx="10"/><text class="t" x="1667" y="601.5"><tspan x="1667">3.3.2. Combine</tspan><tspan x="1667" dy="11">with sensor inputs</tspan></text></g>
<g id="o3_3_3"><rect class="n" x="1618" y="637" width="98" height="51" rx="10"/><text class="t" x="1667" y="655"><tspan x="1667">3.3.3. Ensure</tspan><tspan x="1667" dy="11">seperation at all</tspan><tspan x="1667" dy="11">times</tspan></text></g>
<g id="o_end"><rect class="e" x="1471" y="742" width="98" height="52" rx="10"/><text class="em" x="1520" y="772">END MISSION</text></g>

<!-- ===== acquire lane nodes ===== -->
<g id="l2_0r"><rect class="y" x="244" y="637" width="97" height="51" rx="10"/><text class="t" x="292.5" y="660.8"><tspan x="292.5">2.0 Acquire</tspan><tspan x="292.5" dy="11">target (REF)</tspan></text></g>
<g id="l2_2"><rect class="n" x="367" y="601" width="98" height="52" rx="10"/><text class="t" x="416" y="620"><tspan x="416">2.2 Search for</tspan><tspan x="416" dy="11">target via ground</tspan><tspan x="416" dy="11">cues</tspan></text><g class="tag"><rect x="442" y="636" width="25" height="17" rx="2"/><text class="tg" x="454.5" y="646.5">ST</text></g></g>
<g id="l2_1"><rect class="n" x="367" y="679" width="98" height="30" rx="10"/><text class="t" x="416" y="697">2.1. Dispatch UAS</text></g>
<g id="l2_2_1"><rect class="n" x="367" y="537" width="98" height="51" rx="10"/><text class="t" x="416" y="560.5"><tspan x="416">2.2.1 Define</tspan><tspan x="416" dy="11">search area</tspan></text></g>
<g id="l2_2_2"><rect class="n" x="483" y="537" width="98" height="51" rx="10"/><text class="t" x="532" y="555"><tspan x="532">2.2.2 Update</tspan><tspan x="532" dy="11">search area using</tspan><tspan x="532" dy="11">ground cues</tspan></text></g>
<g id="l2_2_3"><rect class="n" x="604" y="531" width="97" height="63" rx="10"/><text class="t" x="652.5" y="549.5"><tspan x="652.5">2.2.3 Maintain</tspan><tspan x="652.5" dy="11">search until</tspan><tspan x="652.5" dy="11">target has</tspan><tspan x="652.5" dy="11">onboard detect</tspan></text></g>
<g id="l2_2d"><rect class="n" x="492" y="679" width="97" height="30" rx="10"/><text class="t" x="540.5" y="697">2.2. Direct climb</text></g>
<g id="l2_3r"><rect class="n" x="604" y="676" width="97" height="40" rx="10"/><text class="t" x="652.5" y="694"><tspan x="652.5">2.3. Reach</tspan><tspan x="652.5" dy="11">Search Volume</tspan></text></g>
<g id="l2_4s"><rect class="n" x="604" y="746" width="97" height="51" rx="10"/><text class="t" x="652.5" y="764"><tspan x="652.5">2.4. Start</tspan><tspan x="652.5" dy="11">searching serach</tspan><tspan x="652.5" dy="11">volume</tspan></text></g>
<g id="l2_1_1"><rect class="n" x="252" y="749" width="98" height="40" rx="10"/><text class="t" x="301" y="767.5"><tspan x="301">2.1.1 Perform</tspan><tspan x="301" dy="11">vertical take-off</tspan></text></g>
<g id="l2_1_2"><rect class="n" x="357" y="749" width="98" height="40" rx="10"/><text class="t" x="406" y="767.5"><tspan x="406">2.1.2 Transition to</tspan><tspan x="406" dy="11">wingborne climb</tspan></text></g>
<g id="l2_1_3"><rect class="n" x="466" y="743" width="97" height="52" rx="10"/><text class="t" x="514.5" y="762"><tspan x="514.5">2.1.3 Spiral climb</tspan><tspan x="514.5" dy="11">to absorb excess</tspan><tspan x="514.5" dy="11">ground track</tspan></text></g>
<g id="l2_3d"><rect class="n" x="727" y="667" width="102" height="54" rx="10"/><text class="t" x="778" y="685"><tspan x="778">2.3. Detect via</tspan><tspan x="778" dy="11">onboard sensors</tspan></text><g class="tag"><rect x="806" y="704" width="25" height="17" rx="2"/><text class="tg" x="818.5" y="714.5">ST</text></g></g>
<g id="l_detected"><polygon class="dm" points="904,635 950,681 904,727 858,681"/><text class="dt" x="904" y="679.5"><tspan x="904">Targets</tspan><tspan x="904" dy="9.3">Detected?</tspan></text></g>
<g id="l2_4i"><rect class="n" x="981" y="653" width="98" height="52" rx="10"/><text class="t" x="1030" y="672"><tspan x="1030">2.4. Identify and</tspan><tspan x="1030" dy="11">confirm balloon</tspan><tspan x="1030" dy="11">target</tspan></text><g class="tag"><rect x="1056" y="688" width="25" height="17" rx="2"/><text class="tg" x="1068.5" y="698.5">ST</text></g></g>
<g id="l_identity"><polygon class="dm" points="1163,629 1215.5,679 1163,729 1110.5,679"/><text class="dt" x="1163" y="678"><tspan x="1163">Identity</tspan><tspan x="1163" dy="9.3">Confirmed?</tspan></text></g>
<g id="l4_0r"><rect class="y" x="1255" y="654" width="84" height="51" rx="10"/><text class="t" x="1297" y="672"><tspan x="1297">4.0 Intercept</tspan><tspan x="1297" dy="11">the Target</tspan><tspan x="1297" dy="11">(REF)</tspan></text></g>
<g id="l2_3_1"><rect class="n" x="772" y="743" width="98" height="62" rx="10"/><text class="t" x="821" y="761"><tspan x="821">2.3.1 Fuse</tspan><tspan x="821" dy="11">sensors to check</tspan><tspan x="821" dy="11">for target</tspan><tspan x="821" dy="11">anomalies</tspan></text></g>
<g id="l2_3_2"><rect class="n" x="898" y="748" width="98" height="51" rx="10"/><text class="t" x="947" y="766.5"><tspan x="947">2.3.2 Filter false</tspan><tspan x="947" dy="11">detections</tspan></text></g>
<g id="l2_4_1"><rect class="n" x="1024" y="737" width="97" height="62" rx="10"/><text class="t" x="1072.5" y="755.5"><tspan x="1072.5">2.4.1 Compare</tspan><tspan x="1072.5" dy="11">candidate with</tspan><tspan x="1072.5" dy="11">balloon</tspan><tspan x="1072.5" dy="11">characteristics</tspan></text></g>
<g id="l2_4_2"><rect class="n" x="1157" y="743" width="98" height="51" rx="10"/><text class="t" x="1206" y="766.5"><tspan x="1206">2.4.2 Reject non-</tspan><tspan x="1206" dy="11">balloon objects</tspan></text></g>

<!-- ===== intercept lane nodes ===== -->
<g id="s4_0r"><rect class="y" x="257" y="923" width="98" height="51" rx="10"/><text class="t" x="306" y="946.8"><tspan x="306">4.0 Intercept the</tspan><tspan x="306" dy="11">Target (REF)</tspan></text></g>
<g id="s4_1"><rect class="n" x="365" y="923" width="98" height="51" rx="10"/><text class="t" x="414" y="952">4.1 Track Target</text><g class="tag"><rect x="440" y="957" width="25" height="17" rx="2"/><text class="tg" x="452.5" y="967.5">ST</text></g></g>
<g id="s_track"><polygon class="dm" points="532,896 585,948 532,1000 479,948"/><text class="dt" x="532" y="947.5"><tspan x="532">Track</tspan><tspan x="532" dy="9.3">Maintained?</tspan></text></g>
<g id="s4_2"><rect class="n" x="614" y="923" width="98" height="51" rx="10"/><text class="t" x="663" y="946.8"><tspan x="663">4.2 Predict target</tspan><tspan x="663" dy="11">motion</tspan></text><g class="tag"><rect x="689" y="957" width="25" height="17" rx="2"/><text class="tg" x="701.5" y="967.5">ST</text></g></g>
<g id="s4_3"><rect class="n" x="732" y="923" width="98" height="51" rx="10"/><text class="t" x="781" y="946.8"><tspan x="781">4.3 Approach</tspan><tspan x="781" dy="11">target</tspan></text><g class="tag"><rect x="807" y="959" width="25" height="17" rx="2"/><text class="tg" x="819.5" y="969.5">AP</text></g></g>
<g id="s4_4"><rect class="n" x="842" y="922" width="98" height="51" rx="10"/><text class="t" x="891" y="940"><tspan x="891">4.4 Transition to</tspan><tspan x="891" dy="11">hover below</tspan><tspan x="891" dy="11">target</tspan></text><g class="tag"><rect x="917" y="956" width="25" height="17" rx="2"/><text class="tg" x="929.5" y="966.5">AP</text></g></g>
<g id="s4_5"><rect class="n" x="955" y="922" width="98" height="52" rx="10"/><text class="t" x="1004" y="946"><tspan x="1004">4.5 Align for</tspan><tspan x="1004" dy="11">interaction</tspan></text><g class="tag"><rect x="1030" y="957" width="25" height="17" rx="2"/><text class="tg" x="1042.5" y="967.5">AP</text></g></g>
<g id="s_safe"><polygon class="dm" points="1124,893 1178.5,948 1124,1003 1069.5,948"/><text class="dt" x="1124" y="941.5"><tspan x="1124">Safe</tspan><tspan x="1124" dy="9.3">Interaction</tspan><tspan x="1124" dy="9.3">Geometry?</tspan></text></g>
<g id="s4_6"><rect class="n" x="1211" y="922" width="98" height="51" rx="10"/><text class="tl" x="1221" y="940"><tspan x="1221">4.6 Attempt</tspan><tspan x="1221" dy="11">payload capture</tspan><tspan x="1221" dy="11">with net</tspan></text><g class="tag"><rect x="1286" y="956" width="25" height="17" rx="2"/><text class="tg" x="1298.5" y="966.5">BI</text></g></g>
<g id="s_net"><polygon class="dm" points="1376,896 1428,948 1376,1000 1324,948"/><text class="dt" x="1376" y="941.5"><tspan x="1376">Net</tspan><tspan x="1376" dy="9.3">deployed</tspan><tspan x="1376" dy="9.3">corrrectly</tspan></text></g>
<g id="s6_5a"><rect class="ab" x="1339" y="830" width="74" height="41" rx="10"/><text class="t" x="1376" y="848"><tspan x="1376">6.5 Abort</tspan><tspan x="1376" dy="11">Mission</tspan></text></g>
<g id="s4_7"><rect class="n" x="1479" y="922" width="98" height="52" rx="10"/><text class="t" x="1528" y="940.5"><tspan x="1528">4.7 Secure post-</tspan><tspan x="1528" dy="11">contact outcome</tspan></text><g class="tag"><rect x="1554" y="957" width="25" height="17" rx="2"/><text class="tg" x="1566.5" y="967.5">BI</text></g></g>
<g id="s5_0r"><rect class="y" x="1607" y="922" width="98" height="51" rx="10"/><text class="t" x="1656" y="940.5"><tspan x="1656">5.0 Return to the</tspan><tspan x="1656" dy="11">Landing Area</tspan><tspan x="1656" dy="11">(REF)</tspan></text></g>
<g id="s6_7"><rect class="bl" x="855" y="998" width="98" height="51" rx="10"/><text class="t" x="904" y="1022"><tspan x="904">6.7 Reposition for</tspan><tspan x="904" dy="11">allignment</tspan></text></g>
<g id="s4_1_1"><rect class="n" x="257" y="1028" width="68" height="40" rx="10"/><text class="t" x="291" y="1046"><tspan x="291">4.1.1. Fuse</tspan><tspan x="291" dy="11">Sensors</tspan></text></g>
<g id="s4_1_2"><rect class="n" x="345" y="1023" width="86" height="51" rx="10"/><text class="t" x="388" y="1041"><tspan x="388">4.1.2. Ensure</tspan><tspan x="388" dy="11">Centroid</tspan><tspan x="388" dy="11">within FOV</tspan></text></g>
<g id="s4_1_3"><rect class="n" x="438" y="1023" width="85" height="51" rx="10"/><text class="t" x="480.5" y="1046"><tspan x="480.5">4.1.3. Adapt</tspan><tspan x="480.5" dy="11">Radar FOV</tspan></text></g>
<g id="s4_2_1"><rect class="n" x="550" y="1028" width="71" height="73" rx="10"/><text class="t" x="585.5" y="1052"><tspan x="585.5">4.2.1.</tspan><tspan x="585.5" dy="11">Estimate</tspan><tspan x="585.5" dy="11">Balloon</tspan><tspan x="585.5" dy="11">parameters</tspan></text></g>
<g id="s4_2_2"><rect class="n" x="634" y="1033" width="53" height="63" rx="10"/><text class="t" x="660.5" y="1052"><tspan x="660.5">4.2.2.</tspan><tspan x="660.5" dy="11">Update</tspan><tspan x="660.5" dy="11">Balloon</tspan><tspan x="660.5" dy="11">model</tspan></text></g>
<g id="s4_2_3"><rect class="n" x="699" y="1033" width="70" height="63" rx="10"/><text class="t" x="734" y="1052"><tspan x="734">4.2.3.</tspan><tspan x="734" dy="11">Propagate</tspan><tspan x="734" dy="11">balloon</tspan><tspan x="734" dy="11">state</tspan></text></g>
<g id="s4_4_1"><rect class="n" x="816" y="836" width="63" height="61" rx="10"/><text class="t" x="847.5" y="854"><tspan x="847.5">4.4.1</tspan><tspan x="847.5" dy="11">command</tspan><tspan x="847.5" dy="11">pitch up</tspan><tspan x="847.5" dy="11">transition</tspan></text></g>
<g id="s4_4_2"><rect class="n" x="890" y="839" width="110" height="52" rx="10"/><text class="t" x="945" y="858"><tspan x="945">4.4.2. Propagate</tspan><tspan x="945" dy="11">balloon state during</tspan><tspan x="945" dy="11">sensor dropout</tspan></text></g>
<g id="s4_4_3"><rect class="n" x="1011" y="841" width="109" height="52" rx="10"/><text class="t" x="1065.5" y="859.5"><tspan x="1065.5">4.4.3. Regain track</tspan><tspan x="1065.5" dy="11">during hover and</tspan><tspan x="1065.5" dy="11">override belief</tspan></text></g>
<g id="s4_6_1"><rect class="n" x="994" y="1051" width="98" height="51" rx="10"/><text class="tl" x="1003" y="1069">4.6.1 Launch net</text></g>
<g id="s4_6_2"><rect class="n" x="1110" y="1050" width="98" height="51" rx="10"/><text class="tl" x="1119" y="1068.5"><tspan x="1119">4.6.2 Enclose</tspan><tspan x="1119" dy="11">payload</tspan></text></g>
<g id="s4_6_3"><rect class="n" x="1222" y="1051" width="98" height="51" rx="10"/><text class="tl" x="1232" y="1069"><tspan x="1232">4.6.3 Close net</tspan><tspan x="1232" dy="11">pouch</tspan></text></g>
<g id="s4_7_1"><rect class="n" x="1373" y="1013" width="97" height="52" rx="10"/><text class="t" x="1421.5" y="1032"><tspan x="1421.5">4.7.1 Tension</tspan><tspan x="1421.5" dy="11">tether</tspan></text></g>
<g id="s_load"><polygon class="dm" points="1541,986.5 1593,1039 1541,1091.5 1489,1039"/><text class="dt" x="1541" y="1033.5"><tspan x="1541">Load</tspan><tspan x="1541" dy="9.3">acceptable</tspan><tspan x="1541" dy="9.3">?</tspan></text></g>
<g id="s4_7_2"><rect class="n" x="1607" y="1017" width="98" height="52" rx="10"/><text class="t" x="1656" y="1036"><tspan x="1656">4.7.2 Adjust reel</tspan><tspan x="1656" dy="11">payout</tspan></text></g>
<g id="s6_5b"><rect class="ab" x="1378" y="1082" width="74" height="41" rx="10"/><text class="t" x="1415" y="1100"><tspan x="1415">6.5 Abort</tspan><tspan x="1415" dy="11">Mission</tspan></text></g>

<!-- ===== return lane nodes ===== -->
<g id="p5_0r"><rect class="y" x="420" y="1186" width="97" height="51" rx="10"/><text class="t" x="468.5" y="1204.5"><tspan x="468.5">5.0 Return to the</tspan><tspan x="468.5" dy="11">Landing Area</tspan><tspan x="468.5" dy="11">(REF)</tspan></text></g>
<g id="p5_1"><rect class="n" x="585" y="1186" width="97" height="51" rx="10"/><text class="t" x="633.5" y="1204.5"><tspan x="633.5">5.1. Navigate to</tspan><tspan x="633.5" dy="11">the Landing Area</tspan></text><g class="tag"><rect x="659" y="1220" width="25" height="17" rx="2"/><text class="tg" x="671.5" y="1230.5">AP</text></g></g>
<g id="p5_2"><rect class="n" x="749" y="1186" width="98" height="51" rx="10"/><text class="t" x="798" y="1215.5">5.2 Descend</text><g class="tag"><rect x="824" y="1220" width="25" height="17" rx="2"/><text class="tg" x="836.5" y="1230.5">AP</text></g></g>
<g id="p5_3"><rect class="n" x="914" y="1186" width="98" height="51" rx="10"/><text class="t" x="963" y="1215.5">5.3 Land</text><g class="tag"><rect x="989" y="1220" width="25" height="17" rx="2"/><text class="tg" x="1001.5" y="1230.5">AP</text></g></g>
<g id="p5_4"><rect class="n" x="1078" y="1186" width="98" height="51" rx="10"/><text class="t" x="1127" y="1204.5"><tspan x="1127">5.4 Recover</tspan><tspan x="1127" dy="11">payload and</tspan><tspan x="1127" dy="11">debris</tspan></text><g class="tag"><rect x="1153" y="1220" width="25" height="17" rx="2"/><text class="tg" x="1165.5" y="1230.5">AP</text></g></g>
<g id="p5_5"><rect class="n" x="1243" y="1186" width="98" height="51" rx="10"/><text class="t" x="1292" y="1210"><tspan x="1292">5.5 Post Flight</tspan><tspan x="1292" dy="11">Check</tspan></text><g class="tag"><rect x="1318" y="1220" width="25" height="17" rx="2"/><text class="tg" x="1330.5" y="1230.5">OE</text></g></g>
<g id="p5_6"><rect class="n" x="1366" y="1186" width="98" height="51" rx="10"/><text class="t" x="1415" y="1204.5"><tspan x="1415">5.6 Record</tspan><tspan x="1415" dy="11">Mission Data</tspan></text><g class="tag"><rect x="1441" y="1220" width="25" height="17" rx="2"/><text class="tg" x="1453.5" y="1230.5">OE</text></g></g>
<g id="p_end"><rect class="e" x="1489" y="1186" width="98" height="51" rx="10"/><text class="em" x="1538" y="1215.5">END MISSION</text></g>
<g id="p5_2_1"><rect class="n" x="711" y="1319" width="97" height="51" rx="10"/><text class="t" x="759.5" y="1337"><tspan x="759.5">5.2.1 Select</tspan><tspan x="759.5" dy="11">landing/recovery</tspan><tspan x="759.5" dy="11">path and zone</tspan></text></g>
<g id="p5_2_2"><rect class="n" x="829" y="1319" width="97" height="51" rx="10"/><text class="t" x="877.5" y="1337"><tspan x="877.5">5.2.2 Control</tspan><tspan x="877.5" dy="11">descent via</tspan><tspan x="877.5" dy="11">thrust attitude</tspan></text></g>
<g id="p5_2_3"><rect class="n" x="948" y="1307" width="98" height="73" rx="10"/><text class="t" x="997" y="1326"><tspan x="997">5.2.3 Adjust</tspan><tspan x="997" dy="11">applied thrust for</tspan><tspan x="997" dy="11">required</tspan><tspan x="997" dy="11">corrective lateral</tspan><tspan x="997" dy="11">velocity</tspan></text></g>
<g id="p5_4_1"><rect class="n" x="1063" y="1307" width="98" height="51" rx="10"/><text class="t" x="1112" y="1326"><tspan x="1112">5.4.1 Secure</tspan><tspan x="1112" dy="11">balloon and</tspan><tspan x="1112" dy="11">payload</tspan></text></g>
<g id="p5_4_2"><rect class="n" x="1180" y="1302" width="97" height="62" rx="10"/><text class="t" x="1228.5" y="1320"><tspan x="1228.5">5.4.2 Retrieve</tspan><tspan x="1228.5" dy="11">deployed</tspan><tspan x="1228.5" dy="11">recovery</tspan><tspan x="1228.5" dy="11">equipment</tspan></text></g>
<g id="p5_4_3"><rect class="n" x="1299" y="1307" width="98" height="51" rx="10"/><text class="t" x="1348" y="1326"><tspan x="1348">5.4.3 Inspect</tspan><tspan x="1348" dy="11">recovery area for</tspan><tspan x="1348" dy="11">debris</tspan></text></g>

<!-- ===== decommission lane nodes ===== -->
<g id="k7_0"><rect class="y" x="1729" y="292" width="98" height="62" rx="10"/><text class="t" x="1778" y="310"><tspan x="1778">7.0</tspan><tspan x="1778" dy="11">Decommission</tspan><tspan x="1778" dy="11">UAS and Close</tspan><tspan x="1778" dy="11">Lifecycle</tspan></text></g>
<g id="k7_1"><rect class="n" x="1729" y="397" width="98" height="59" rx="10"/><text class="t" x="1778" y="415"><tspan x="1778">7.1 Perform Final</tspan><tspan x="1778" dy="11">System Health</tspan><tspan x="1778" dy="11">Audit</tspan></text><g class="tag"><rect x="1804" y="439" width="25" height="17" rx="2"/><text class="tg" x="1816.5" y="449.5">LS</text></g></g>
<g id="k7_1_1"><rect class="n" x="1833" y="433" width="98" height="40" rx="10"/><text class="t" x="1882" y="452"><tspan x="1882">7.1.1. Structural</tspan><tspan x="1882" dy="11">Integrity Scan</tspan></text></g>
<g id="k7_1_2"><rect class="n" x="1833" y="484" width="98" height="51" rx="10"/><text class="t" x="1882" y="502"><tspan x="1882">7.1.2. Propulsion</tspan><tspan x="1882" dy="11">&amp; Avionics Satics</tspan><tspan x="1882" dy="11">Testing</tspan></text></g>
<g id="k7_2"><rect class="n" x="1729" y="507" width="98" height="73" rx="10"/><text class="t" x="1778" y="526"><tspan x="1778">7.2 Extract and</tspan><tspan x="1778" dy="11">Archive All</tspan><tspan x="1778" dy="11">Lifetime</tspan><tspan x="1778" dy="11">Telemetry</tspan></text><g class="tag"><rect x="1804" y="563" width="25" height="17" rx="2"/><text class="tg" x="1816.5" y="573.5">LS</text></g></g>
<g id="k7_2_1"><rect class="n" x="1833" y="570" width="98" height="40" rx="10"/><text class="t" x="1882" y="588"><tspan x="1882">7.2.1. Sanitize</tspan><tspan x="1882" dy="11">onboard modules</tspan></text></g>
<g id="k7_2_2"><rect class="n" x="1833" y="617" width="98" height="40" rx="10"/><text class="t" x="1882" y="635"><tspan x="1882">7.2.2. Sync</tspan><tspan x="1882" dy="11">Lifecyle Logbook</tspan></text></g>
<g id="k7_3"><rect class="n" x="1729" y="638" width="98" height="61" rx="10"/><text class="t" x="1778" y="656"><tspan x="1778">7.3 Remove</tspan><tspan x="1778" dy="11">Reusable</tspan><tspan x="1778" dy="11">Subsystems</tspan></text><g class="tag"><rect x="1804" y="682" width="25" height="17" rx="2"/><text class="tg" x="1816.5" y="692.5">LS</text></g></g>
<g id="k7_3_1"><rect class="n" x="1833" y="683" width="98" height="51" rx="10"/><text class="t" x="1882" y="701"><tspan x="1882">7.3.1. Component</tspan><tspan x="1882" dy="11">Testing &amp;</tspan><tspan x="1882" dy="11">Recertification</tspan></text></g>
<g id="k7_3_2"><rect class="n" x="1829" y="742" width="105" height="40" rx="10"/><text class="t" x="1881.5" y="760"><tspan x="1881.5">7.3.2. Log</tspan><tspan x="1881.5" dy="11">Salvaged Inventory</tspan></text></g>
<g id="k7_4"><rect class="n" x="1729" y="756" width="98" height="66" rx="10"/><text class="t" x="1778" y="774"><tspan x="1778">7.4 Safe Disposal</tspan><tspan x="1778" dy="11">of Hazardous</tspan><tspan x="1778" dy="11">Materials</tspan></text><g class="tag"><rect x="1804" y="805" width="25" height="17" rx="2"/><text class="tg" x="1816.5" y="815.5">LS</text></g></g>
<g id="k7_4_1"><rect class="n" x="1829" y="806" width="105" height="40" rx="10"/><text class="t" x="1881.5" y="824"><tspan x="1881.5">7.4.1. Battery</tspan><tspan x="1881.5" dy="11">Discharge</tspan></text></g>
<g id="k7_4_2"><rect class="n" x="1829" y="859" width="105" height="40" rx="10"/><text class="t" x="1881.5" y="877.5"><tspan x="1881.5">7.4.2. Explosive</tspan><tspan x="1881.5" dy="11">residue cleaning</tspan></text></g>
<g id="k7_5"><rect class="n" x="1729" y="892" width="98" height="52" rx="10"/><text class="t" x="1778" y="910.5"><tspan x="1778">7.5 Recycle</tspan><tspan x="1778" dy="11">recoverable</tspan><tspan x="1778" dy="11">materials</tspan></text><g class="tag"><rect x="1804" y="927" width="25" height="17" rx="2"/><text class="tg" x="1816.5" y="937.5">LS</text></g></g>
<g id="k7_6"><rect class="n" x="1729" y="993" width="98" height="68" rx="10"/><text class="t" x="1778" y="1012"><tspan x="1778">7.6 Formal De-</tspan><tspan x="1778" dy="11">registration with</tspan><tspan x="1778" dy="11">Aviation</tspan><tspan x="1778" dy="11">Authorities</tspan></text><g class="tag"><rect x="1804" y="1044" width="25" height="17" rx="2"/><text class="tg" x="1816.5" y="1054.5">LS</text></g></g>
<g id="k7_7"><rect class="n" x="1729" y="1109" width="98" height="51" rx="10"/><text class="t" x="1778" y="1127"><tspan x="1778">7.7 Record end-</tspan><tspan x="1778" dy="11">of-life outcome</tspan></text><g class="tag"><rect x="1804" y="1143" width="25" height="17" rx="2"/><text class="tg" x="1816.5" y="1153.5">LS</text></g></g>
<g id="k7_6_1"><rect class="n" x="1835" y="1144" width="104" height="40" rx="10"/><text class="t" x="1887" y="1162"><tspan x="1887">7.6.1. Remote ID</tspan><tspan x="1887" dy="11">De-allocation</tspan></text></g>
<g id="k7_6_2"><rect class="n" x="1835" y="1191" width="104" height="40" rx="10"/><text class="t" x="1887" y="1210"><tspan x="1887">7.6.2. Liability and</tspan><tspan x="1887" dy="11">Insurance Sign-off</tspan></text></g>
<g id="k7_8"><rect class="n" x="1729" y="1217" width="98" height="59" rx="10"/><text class="t" x="1778" y="1235"><tspan x="1778">7.8 Feed learned</tspan><tspan x="1778" dy="11">lessons into</tspan><tspan x="1778" dy="11">future design</tspan></text><g class="tag"><rect x="1804" y="1259" width="25" height="17" rx="2"/><text class="tg" x="1816.5" y="1269.5">LS</text></g></g>
<g id="k0_0r"><rect class="y" x="1729" y="1330" width="98" height="50" rx="10"/><text class="t" x="1778" y="1348"><tspan x="1778">0.0 Produce</tspan><tspan x="1778" dy="11">Mission-Ready</tspan><tspan x="1778" dy="11">UAS (REF)</tspan></text></g>
</svg>
